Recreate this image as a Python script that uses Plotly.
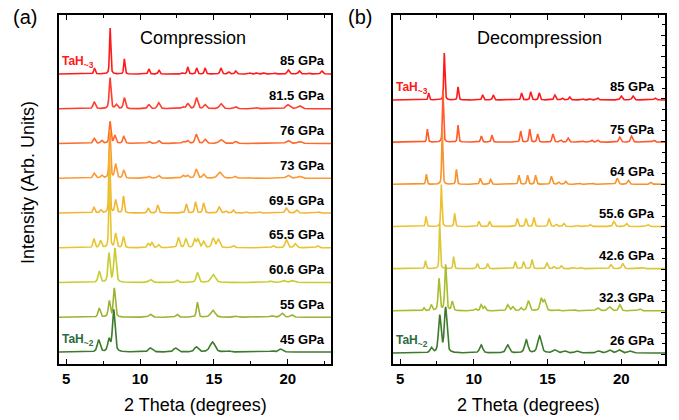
import numpy as np
import plotly.graph_objects as go

# ---------------- data ----------------
# peaks: (2theta position, height in plot units, FWHM)
comp_labels = ["85 GPa", "81.5 GPa", "76 GPa", "73 GPa", "69.5 GPa",
               "65.5 GPa", "60.6 GPa", "55 GPa", "45 GPa"]
comp_peaks_85 = [(6.92, 6, .12), (7.98, 46, .1), (8.94, 15, .1), (10.6, 5, .12), (11.28, 4, .12),
                 (12.9, 1, .12), (13.23, 7, .12), (13.83, 6, .12), (14.4, 6, .12), (15.47, 6, .14),
                 (16.0, 2, .14), (16.47, 3, .14), (17.44, 1, .15), (17.9, 1, .15), (18.4, 1, .15),
                 (19.1, 1, .15), (20.03, 4, .16), (20.78, 3, .16), (21.4, 1, .16), (22.3, 3, .16)]
comp_peaks_81_5 = [(6.9, 7, .18), (7.97, 31, .14), (8.4, 4, .18), (8.94, 11, .16), (10.6, 4, .2),
                   (11.26, 6, .2), (12.9, 2, .2), (13.23, 5, .2), (13.82, 11, .2), (14.4, 4, .2),
                   (15.47, 5, .25), (16.47, 2, .2), (17.9, 1, .2), (20.0, 4, .3), (20.78, 3, .3)]
comp_peaks_76 = [(6.9, 5, .18), (7.4, 3, .18), (7.97, 22, .14), (8.3, 8, .16), (8.9, 7, .16),
                 (10.6, 2, .2), (11.26, 3, .2), (12.9, 2, .2), (13.2, 3, .2), (13.8, 9, .2),
                 (14.4, 4, .2), (15.47, 4, .3), (16.47, 2, .2), (20.0, 3, .3), (20.78, 2, .3)]
comp_peaks_73 = [(6.9, 5, .18), (7.4, 3, .18), (7.96, 48, .12), (8.35, 14, .16), (8.9, 8, .16),
                 (10.58, 2, .2), (11.25, 3, .2), (12.9, 3, .2), (13.2, 3, .2), (13.8, 9, .2),
                 (14.3, 4, .2), (15.4, 6, .35), (16.4, 2, .2), (17.3, 1, .2), (20.0, 3, .3), (20.78, 2, .3)]
comp_peaks_69_5 = [(6.88, 6, .14), (7.35, 3, .15), (7.93, 65, .1), (8.35, 13, .15), (8.88, 17, .12),
                   (10.55, 5, .14), (11.2, 8, .14), (13.13, 9, .14), (13.75, 11, .14), (14.3, 10, .14),
                   (15.35, 6, .18), (15.8, 2, .15), (16.3, 3, .15), (17.2, 1, .15), (18.1, 1, .15),
                   (19.9, 5, .18), (20.6, 3, .18), (22.1, 1, .15)]
comp_peaks_65_5 = [(6.88, 9, .15), (7.33, 7, .16), (7.93, 75, .1), (8.35, 14, .15), (8.88, 11, .14),
                   (10.55, 4, .16), (10.8, 5, .16), (11.25, 3, .16), (12.6, 10, .18), (13.1, 9, .18),
                   (13.7, 8, .18), (13.92, 8, .18), (14.3, 6, .18), (14.95, 9, .22), (15.3, 8, .22),
                   (16.3, 2, .2), (19.0, 2, .2), (19.9, 8, .2), (20.5, 4, .2), (22.0, 2, .2)]
comp_peaks_60_6 = [(7.24, 11, .18), (7.9, 29, .16), (8.3, 34, .18), (10.7, 3, .25), (12.5, 2.5, .2),
                   (13.88, 10, .2), (14.95, 8, .35), (18.8, 1.5, .3), (19.7, 2, .3), (20.3, 2, .3)]
comp_peaks_55 = [(7.24, 9, .18), (7.92, 16, .16), (8.26, 29, .16), (10.69, 3, .25), (12.5, 3, .2),
                 (13.88, 15, .15), (14.93, 7, .35), (16.5, 1, .3), (18.9, 1.5, .3), (19.6, 4, .25),
                 (20.25, 2.5, .25)]
comp_peaks_45 = [(7.2, 12, .22), (7.9, 12, .2), (8.22, 42, .2), (10.7, 4, .3), (12.4, 4, .3),
                 (13.8, 5, .3), (14.9, 10, .4), (16.0, 1, .3), (18.9, 1, .3), (19.5, 3, .3)]
comp_peaks = [comp_peaks_85, comp_peaks_81_5, comp_peaks_76, comp_peaks_73, comp_peaks_69_5,
              comp_peaks_65_5, comp_peaks_60_6, comp_peaks_55, comp_peaks_45]
comp_colors = ["#ff1a1a", "#ff3c2e", "#ff6a2a", "#fb9a34", "#f2b431",
               "#e6c52e", "#c8cc2e", "#9cb234", "#3d7a2c"]

decomp_labels = ["85 GPa", "75 GPa", "64 GPa", "55.6 GPa", "42.6 GPa", "32.3 GPa", "26 GPa"]
decomp_peaks_85 = [(6.94, 7, .1), (8.0, 47, .09), (8.93, 13, .1), (10.6, 5, .12), (11.32, 5, .12),
                   (13.24, 7, .12), (13.86, 8, .12), (14.44, 7, .12), (15.5, 5, .14), (16.0, 2, .14),
                   (16.5, 3, .14), (17.4, 1, .14), (17.9, 1, .14), (18.4, 2, .14), (20.0, 4, .16),
                   (20.8, 4, .16), (22.3, 2, .16)]
decomp_peaks_75 = [(6.85, 13, .1), (7.91, 52, .09), (8.93, 17, .1), (10.51, 6, .12), (11.23, 7, .12),
                   (13.18, 11, .12), (13.79, 13, .12), (14.33, 8, .12), (15.37, 8, .14), (15.9, 2, .14),
                   (16.4, 4, .14), (17.4, 1, .14), (18.0, 2, .14), (18.4, 2, .14), (19.9, 5, .16),
                   (20.7, 6, .16), (22.2, 2, .16)]
decomp_peaks_64 = [(6.78, 10, .1), (7.86, 55, .09), (8.82, 15, .1), (10.44, 6, .12), (11.14, 5, .12),
                   (13.06, 9, .12), (13.65, 9, .12), (14.19, 9, .12), (15.26, 8, .14), (15.75, 2, .14),
                   (16.23, 3, .14), (17.2, 1, .14), (18.1, 1, .14), (19.73, 6, .16), (20.48, 4, .16),
                   (22.0, 2, .16)]
decomp_peaks_55_6 = [(6.76, 10, .1), (7.8, 42, .09), (8.7, 13, .1), (10.35, 5, .12), (11.07, 5, .12),
                     (12.95, 8, .12), (13.54, 8, .12), (14.08, 9, .12), (15.1, 8, .14), (15.6, 2, .14),
                     (16.1, 3, .14), (17.05, 1, .14), (17.9, 2, .14), (19.5, 5, .16), (20.35, 3, .16),
                     (21.8, 2, .16)]
decomp_peaks_42_6 = [(6.72, 8, .1), (7.69, 45, .09), (8.63, 12, .1), (10.24, 5, .12), (10.94, 5, .12),
                     (12.81, 7, .12), (13.38, 7, .12), (13.95, 9, .12), (14.96, 6, .14), (15.45, 2, .14),
                     (15.93, 3, .14), (16.8, 1, .14), (17.3, 1, .14), (19.3, 4, .16), (20.1, 5, .16),
                     (21.5, 1, .16)]
decomp_peaks_32_3 = [(6.62, 3, .12), (7.12, 6, .14), (7.64, 32, .14), (8.09, 46, .14), (8.54, 9, .14),
                     (10.1, 2, .15), (10.5, 6, .15), (10.73, 4, .15), (12.3, 6, .18), (12.65, 4, .18),
                     (13.2, 3, .15), (13.7, 10, .2), (14.57, 12, .2), (14.8, 10, .2), (15.7, 1, .2),
                     (16.8, 1, .2), (18.4, 3, .25), (19.2, 4, .25), (19.9, 6, .18), (21.25, 2, .2)]
decomp_peaks_26 = [(7.12, 5, .2), (7.69, 37, .2), (8.09, 45, .2), (10.5, 8, .25), (12.3, 8, .28),
                   (13.56, 13, .25), (14.46, 17, .3), (15.48, 3, .3), (16.16, 2, .3), (17.0, 2, .3),
                   (18.45, 2, .3), (19.2, 3, .3), (19.85, 3, .3), (20.6, 2, .3)]
decomp_peaks = [decomp_peaks_85, decomp_peaks_75, decomp_peaks_64, decomp_peaks_55_6,
                decomp_peaks_42_6, decomp_peaks_32_3, decomp_peaks_26]
decomp_colors = ["#ff1a1a", "#ff5a2a", "#f8922a", "#eec030", "#dcc638", "#a8bc2e", "#3d7a2c"]

x_ticks = [5, 10, 15, 20]

# ---------------- build ----------------
FONT = "Liberation Sans, Arial, Helvetica, sans-serif"
two_theta = np.linspace(4.5, 23.0, 3000)


def profile(peaks):
    y = np.zeros_like(two_theta)
    for p, h, w in peaks:
        d = (two_theta - p) / w
        y += h * (0.5 / (1 + 4 * d * d) + 0.5 * np.exp(-4 * np.log(2) * d * d))
    return y


fig = go.Figure()
annotations = []

panels = [
    (comp_peaks, comp_colors, comp_labels, "x", "y", 12.0, 34.75, 22.62),
    (decomp_peaks, decomp_colors, decomp_labels, "x2", "y2", 11.0, 42.17, 22.45),
]
for peaks_list, colors, labels, xr, yr, base0, step, label_x in panels:
    n = len(peaks_list)
    for i, (pk, col, lab) in enumerate(zip(peaks_list, colors, labels)):
        off = base0 + step * (n - 1 - i)
        fig.add_trace(go.Scatter(x=two_theta, y=off + profile(pk), mode="lines",
                                 line=dict(color=col, width=1.6), xaxis=xr, yaxis=yr,
                                 showlegend=False, hoverinfo="skip"))
        annotations.append(dict(x=label_x, y=off + 13, xref=xr, yref=yr, text=lab,
                                showarrow=False, xanchor="right", yanchor="middle",
                                font=dict(family=FONT, size=13, color="black", weight="bold")))
    top_off = base0 + step * (n - 1)
    annotations.append(dict(x=4.62, y=top_off + 12, xref=xr, yref=yr, text="TaH<sub>~3</sub>",
                            showarrow=False, xanchor="left", yanchor="middle",
                            font=dict(family=FONT, size=12, color=colors[0], weight="bold")))
    annotations.append(dict(x=4.62, y=base0 + 12, xref=xr, yref=yr, text="TaH<sub>~2</sub>",
                            showarrow=False, xanchor="left", yanchor="middle",
                            font=dict(family=FONT, size=12, color="#2e6b40", weight="bold")))

for txt, x, y, size, ang in [("(a)", 0.0368, 0.9595, 20, 0), ("(b)", 0.5295, 0.9595, 20, 0),
                             ("Compression", 0.284, 0.9095, 18, 0),
                             ("Decompression", 0.794, 0.9095, 18, 0),
                             ("2 Theta (degrees)", 0.2872, 0.0357, 18, 0),
                             ("2 Theta (degrees)", 0.778, 0.0357, 18, 0),
                             ("Intensity (Arb. Units)", 0.0412, 0.5667, 18, -90)]:
    annotations.append(dict(x=x, y=y, xref="paper", yref="paper", text=txt, showarrow=False,
                            xanchor="center", yanchor="middle", textangle=ang,
                            font=dict(family=FONT, size=size, color="black")))

xcommon = dict(tickvals=x_ticks, ticks="inside", ticklen=5, tickwidth=1.3, tickcolor="black",
               showline=True, linewidth=1.5, linecolor="black", mirror="ticks",
               showgrid=False, zeroline=False,
               minor=dict(tickvals=[7.5, 12.5, 17.5, 22.5], ticks="inside", ticklen=3,
                          tickwidth=1.2, tickcolor="black", showgrid=False),
               tickfont=dict(family=FONT, size=15, color="black", weight="bold"))
ycommon = dict(range=[0, 349], showline=True, linewidth=1.5, linecolor="black",
               showgrid=False, zeroline=False, showticklabels=False, domain=[0.1333, 0.9643])

fig.update_layout(
    width=679, height=420, margin=dict(l=0, r=0, t=0, b=0),
    paper_bgcolor="white", plot_bgcolor="white", showlegend=False,
    xaxis=dict(domain=[0.0869, 0.4875], range=[4.52, 22.92], anchor="y", **xcommon),
    xaxis2=dict(domain=[0.5788, 0.9794], range=[4.52, 22.97], anchor="y2", **xcommon),
    yaxis=dict(anchor="x", ticks="", mirror=True, **ycommon),
    yaxis2=dict(anchor="x2", side="right", mirror=True, ticks="inside", ticklen=4,
                tickwidth=1.2, tickcolor="black", tick0=9.4, dtick=21.3,
                minor=dict(ticks="inside", ticklen=3, tickwidth=1.1, tickcolor="black",
                           dtick=10.65, tick0=9.4, showgrid=False),
                **ycommon),
    annotations=annotations,
)

fig.write_html("out.html", config={"displayModeBar": False},
               post_script="document.body.style.margin='0';document.body.style.overflow='hidden';")
